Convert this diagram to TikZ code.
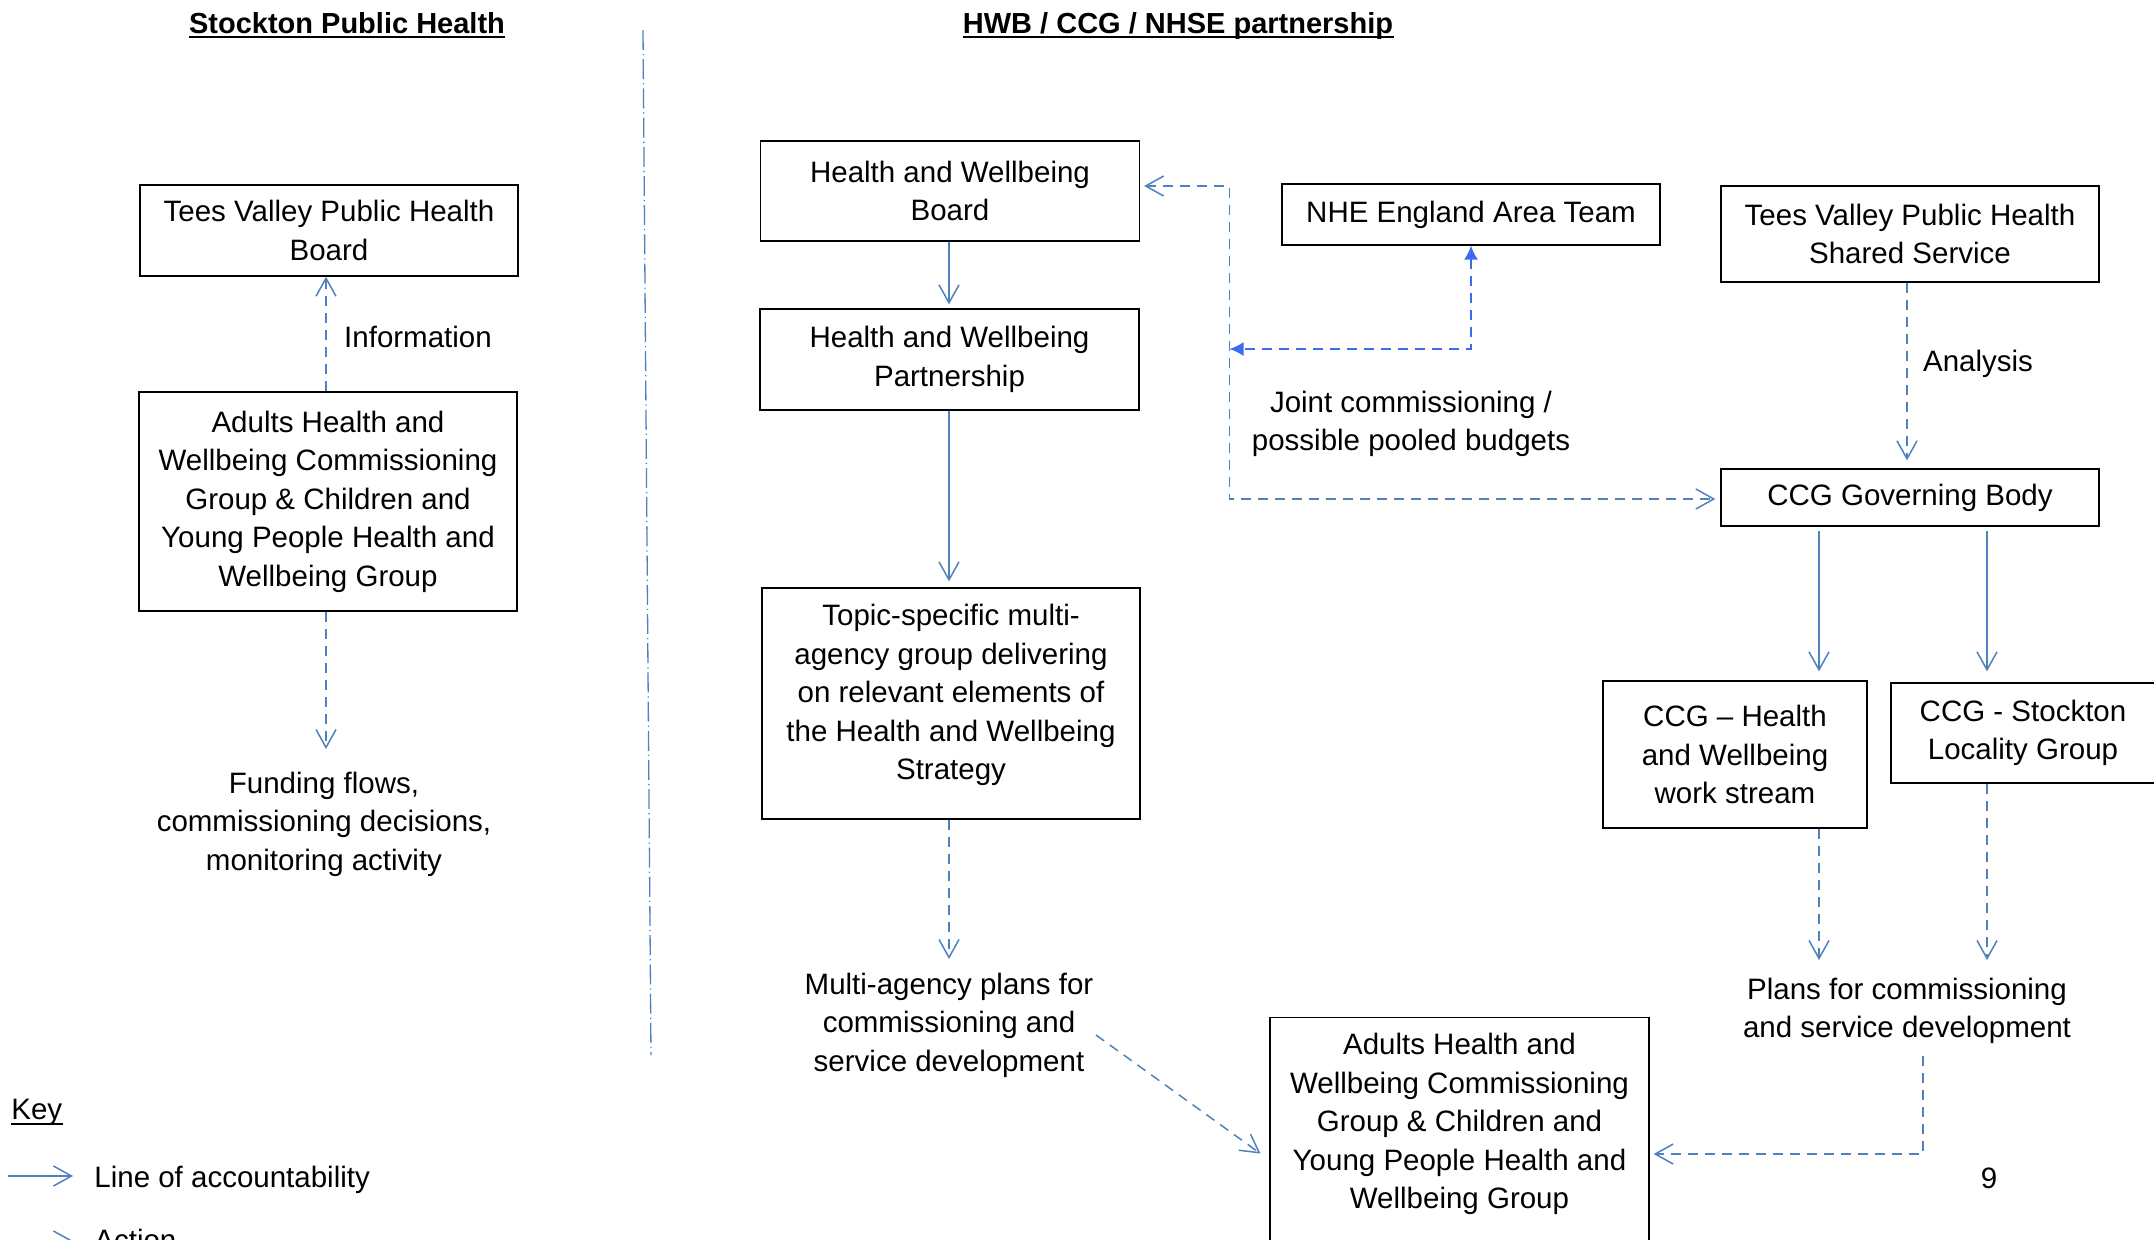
\documentclass[tikz,border=0pt]{standalone}
\usepackage{fontspec}
\setmainfont{Liberation Sans}
\usetikzlibrary{arrows.meta}
\definecolor{accblue}{RGB}{79,129,189}
\definecolor{nheblue}{RGB}{59,108,240}
\begin{document}
\begin{tikzpicture}[x=0.5pt,y=-0.5pt,
 box/.style={draw=black, line width=0.65pt, inner sep=0pt, align=center, font=\fontsize{14.75pt}{19.25pt}\selectfont},
 txt/.style={inner sep=0pt, align=center, font=\fontsize{14.75pt}{19.25pt}\selectfont},
 ttl/.style={inner sep=0pt, font=\fontsize{14.5pt}{19.25pt}\selectfont\bfseries},
 accline/.style={draw=accblue, line width=0.75pt, -{Straight Barb[length=9pt,width=10pt]}},
 actline/.style={accline, dash pattern=on 5pt off 3.5pt},
 actboth/.style={draw=accblue, line width=0.75pt, dash pattern=on 5pt off 3.5pt, {Straight Barb[length=9pt,width=10pt]}-{Straight Barb[length=9pt,width=10pt]}},
 nheline/.style={draw=nheblue, line width=0.8pt, dash pattern=on 5pt off 3.5pt, {Latex[length=7pt,width=7pt]}-{Latex[length=7pt,width=7pt]}},
 divline/.style={draw=accblue, line width=0.65pt, dash pattern=on 10pt off 2pt on 0.6pt off 2pt},
 uline/.style={draw=black, line width=1pt}
]
\useasboundingbox (0,0) rectangle (2154,1239);
\clip (0,0) rectangle (2154,1239);

% titles
\node[ttl, anchor=base] (t1) at (347,33) {Stockton Public Health};
\draw[uline] ([yshift=-2pt]t1.base west) -- ([yshift=-2pt]t1.base east);
\node[ttl, anchor=base] (t2) at (1178,33) {HWB / CCG / NHSE partnership};
\draw[uline] ([yshift=-2pt]t2.base west) -- ([yshift=-2pt]t2.base east);

% divider
\coordinate (dv1) at (643,30);
\coordinate (dv2) at (651,1055);
\draw[divline] (dv1) -- (dv2);

% left column
\node[box, minimum width=189pt, minimum height=45.5pt] (tvphb) at (329,230.5) {Tees Valley Public Health\\Board};
\node[box, minimum width=189pt, minimum height=109.5pt] (ahwl) at (328,501.5) {Adults Health and\\Wellbeing Commissioning\\Group \& Children and\\Young People Health and\\Wellbeing Group};
\node[txt] (info) at (418,337) {Information};
\node[txt] (fund) at (324,824) {Funding flows,\\commissioning decisions,\\monitoring activity};
\coordinate (xl) at (326,0);
\coordinate (fundtip) at (326,749);
\draw[actline] (ahwl.north -| xl) -- (tvphb.south -| xl);
\draw[actline] (ahwl.south -| xl) -- (fundtip);

% middle column
\node[box, minimum width=189.5pt, minimum height=50pt] (hwbb) at (950,191) {Health and Wellbeing\\Board};
\node[box, minimum width=189.5pt, minimum height=50.5pt] (hwbp) at (949.5,359.5) {Health and Wellbeing\\Partnership};
\node[box, minimum width=189pt, minimum height=115.5pt] (topic) at (951,703.5) {};
\node[txt] (topictext) at (951,695) {Topic-specific multi-\\agency group delivering\\on relevant elements of\\the Health and Wellbeing\\Strategy};
\node[txt] (multi) at (949,1025) {Multi-agency plans for\\commissioning and\\service development};
\coordinate (xm) at (949,0);
\coordinate (mtip) at (949,959);
\draw[accline, shorten >=2pt] (hwbb.south -| xm) -- (hwbp.north -| xm);
\draw[accline, shorten >=3pt] (hwbp.south -| xm) -- (topic.north -| xm);
\draw[actline] (topic.south -| xm) -- (mtip);

% right part
\node[box, minimum width=189pt, minimum height=30.5pt] (nhe) at (1471,214.5) {NHE England Area Team};
\node[box, minimum width=189pt, minimum height=48pt] (tvphss) at (1910,234) {Tees Valley Public Health\\Shared Service};
\node[box, minimum width=189pt, minimum height=28.5pt] (ccggb) at (1910,497.5) {CCG Governing Body};
\node[box, minimum width=132pt, minimum height=73.5pt] (ccghw) at (1735,754.5) {CCG -- Health\\and Wellbeing\\work stream};
\node[box, minimum width=132pt, minimum height=50pt] (ccgsl) at (2023,733) {CCG - Stockton\\Locality Group};
\node[box, minimum width=189.5pt, minimum height=125pt, anchor=north] (adb) at (1459.5,1017) {};
\node[txt] (adbtext) at (1459.5,1124) {Adults Health and\\Wellbeing Commissioning\\Group \& Children and\\Young People Health and\\Wellbeing Group};
\node[txt] (joint) at (1411,424) {Joint commissioning /\\possible pooled budgets};
\node[txt] (analysis) at (1978,364) {Analysis};
\node[txt] (plans) at (1907,1011) {Plans for commissioning\\and service development};
\node[txt] (pg) at (1989,1178) {9};

\coordinate (ja) at (1229.5,186);
\coordinate (jb) at (1229.5,499);
\coordinate (jy) at (0,349);
\draw[actboth, shorten <=2pt, shorten >=2.5pt] (hwbb.east |- ja) -- (ja) -- (jb) -- (ccggb.west |- jb);
\draw[nheline] (nhe.south) -- (nhe.south |- jy) -- (ja |- jy);

\coordinate (xr) at (1907,0);
\coordinate (xa) at (1819,0);
\coordinate (xb) at (1987,0);
\draw[actline, shorten >=4pt] (tvphss.south -| xr) -- (ccggb.north -| xr);
\draw[accline, shorten <=2pt, shorten >=4.5pt] (ccggb.south -| xa) -- (ccghw.north -| xa);
\draw[accline, shorten <=2pt, shorten >=5.5pt] (ccggb.south -| xb) -- (ccgsl.north -| xb);
\coordinate (pa) at (1819,960);
\coordinate (pb) at (1987,960);
\draw[actline] (ccghw.south -| xa) -- (pa);
\draw[actline] (ccgsl.south -| xb) -- (pb);
\coordinate (pc1) at (1923,1056);
\coordinate (pc2) at (1923,1154);
\draw[actline, shorten >=2pt] (pc1) -- (pc2) -- (adb.east |- pc2);

\coordinate (dg1) at (1096,1035);
\coordinate (dgy) at (0,1160);
\draw[actline, shorten >=5.5pt] (dg1) -- (adb.west |- dgy);

% key
\node[txt, anchor=base west] (key) at (11,1119) {Key};
\draw[uline, line width=0.9pt] ([yshift=-2.5pt]key.base west) -- ([yshift=-2.5pt]key.base east);
\coordinate (k1) at (8,1176);
\coordinate (k2) at (73,1176);
\draw[accline] (k1) -- (k2);
\node[txt, anchor=base west] (kacc) at (94,1187) {Line of accountability};
\coordinate (ka1) at (8,1241);
\coordinate (ka2) at (73,1241);
\draw[actline] (ka1) -- (ka2);
\node[txt, anchor=base west] (kact) at (94,1250) {Action};
\end{tikzpicture}
\end{document}
